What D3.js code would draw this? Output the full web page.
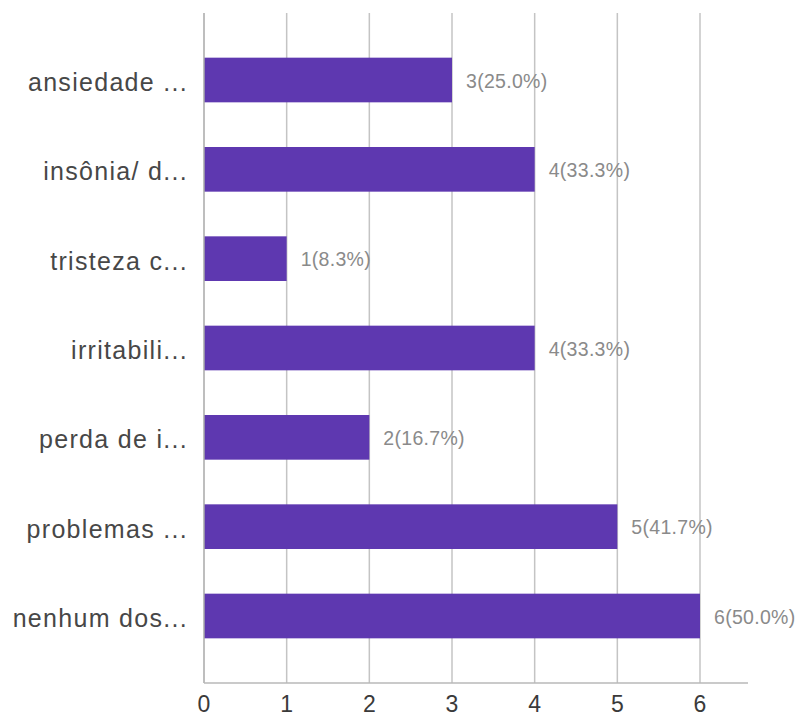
<!DOCTYPE html>
<html>
<head>
<meta charset="utf-8">
<script src="https://cdn.jsdelivr.net/npm/d3@7/dist/d3.min.js"></script>
<style>
  html, body { margin: 0; padding: 0; background: #fff; }
  svg { display: block; }
</style>
</head>
<body>
<svg id="chart" width="808" height="717"></svg>
<script>
// Responses per option (truncated option labels as shown on the form summary)
const categories = [
  "ansiedade ...",
  "insônia/ d...",
  "tristeza c...",
  "irritabili...",
  "perda de i...",
  "problemas ...",
  "nenhum dos..."
];
const counts = [3, 4, 1, 4, 2, 5, 6];
const percents = ["25.0%", "33.3%", "8.3%", "33.3%", "16.7%", "41.7%", "50.0%"];
const xTicks = [0, 1, 2, 3, 4, 5, 6];

const data = categories.map((c, i) => ({ cat: c, n: counts[i], pct: percents[i] }));

const svg = d3.select("#chart");
const plotLeft = 204, plotRight = 700, plotTop = 13, plotBottom = 683, axisEnd = 748;

const x = d3.scaleLinear().domain([0, 6]).range([plotLeft, plotRight]);
const y = d3.scaleBand().domain(categories).range([plotTop, plotBottom])
  .paddingInner(0.5).paddingOuter(0.5);

// vertical grid lines
svg.append("g").selectAll("line").data(xTicks.filter(t => t > 0)).join("line")
  .attr("x1", d => x(d)).attr("x2", d => x(d))
  .attr("y1", plotTop).attr("y2", plotBottom)
  .attr("stroke", "#c4c4c4").attr("stroke-width", 1.5);

// bars
svg.append("g").selectAll("rect").data(data).join("rect")
  .attr("x", x(0))
  .attr("y", d => y(d.cat))
  .attr("width", d => x(d.n) - x(0))
  .attr("height", y.bandwidth())
  .attr("fill", "#5e38b0");

// left and bottom axis lines
svg.append("line")
  .attr("x1", plotLeft).attr("x2", plotLeft).attr("y1", plotTop).attr("y2", plotBottom)
  .attr("stroke", "#a8a8a8").attr("stroke-width", 1.5);
svg.append("line")
  .attr("x1", plotLeft).attr("x2", axisEnd).attr("y1", plotBottom).attr("y2", plotBottom)
  .attr("stroke", "#b8b8b8").attr("stroke-width", 1.5);

// category labels
svg.append("g").selectAll("text").data(data).join("text")
  .attr("x", 188)
  .attr("y", d => y(d.cat) + y.bandwidth() / 2 + 11)
  .attr("text-anchor", "end")
  .attr("font-family", "'Liberation Sans', Arial, sans-serif")
  .attr("font-size", 25)
  .attr("letter-spacing", 1.3)
  .attr("fill", "#474747")
  .text(d => d.cat);

// value labels
svg.append("g").selectAll("text").data(data).join("text")
  .attr("x", d => x(d.n) + 14)
  .attr("y", d => y(d.cat) + y.bandwidth() / 2 + 7.5)
  .attr("font-family", "'Liberation Sans', Arial, sans-serif")
  .attr("font-size", 19.5)
  .attr("letter-spacing", 0.3)
  .attr("fill", "#8a8a8a")
  .text(d => `${d.n}(${d.pct})`);

// x tick labels
svg.append("g").selectAll("text").data(xTicks).join("text")
  .attr("x", d => x(d))
  .attr("y", 712)
  .attr("text-anchor", "middle")
  .attr("font-family", "'Liberation Sans', Arial, sans-serif")
  .attr("font-size", 23)
  .attr("fill", "#3a3a3a")
  .text(d => d);
</script>
</body>
</html>
